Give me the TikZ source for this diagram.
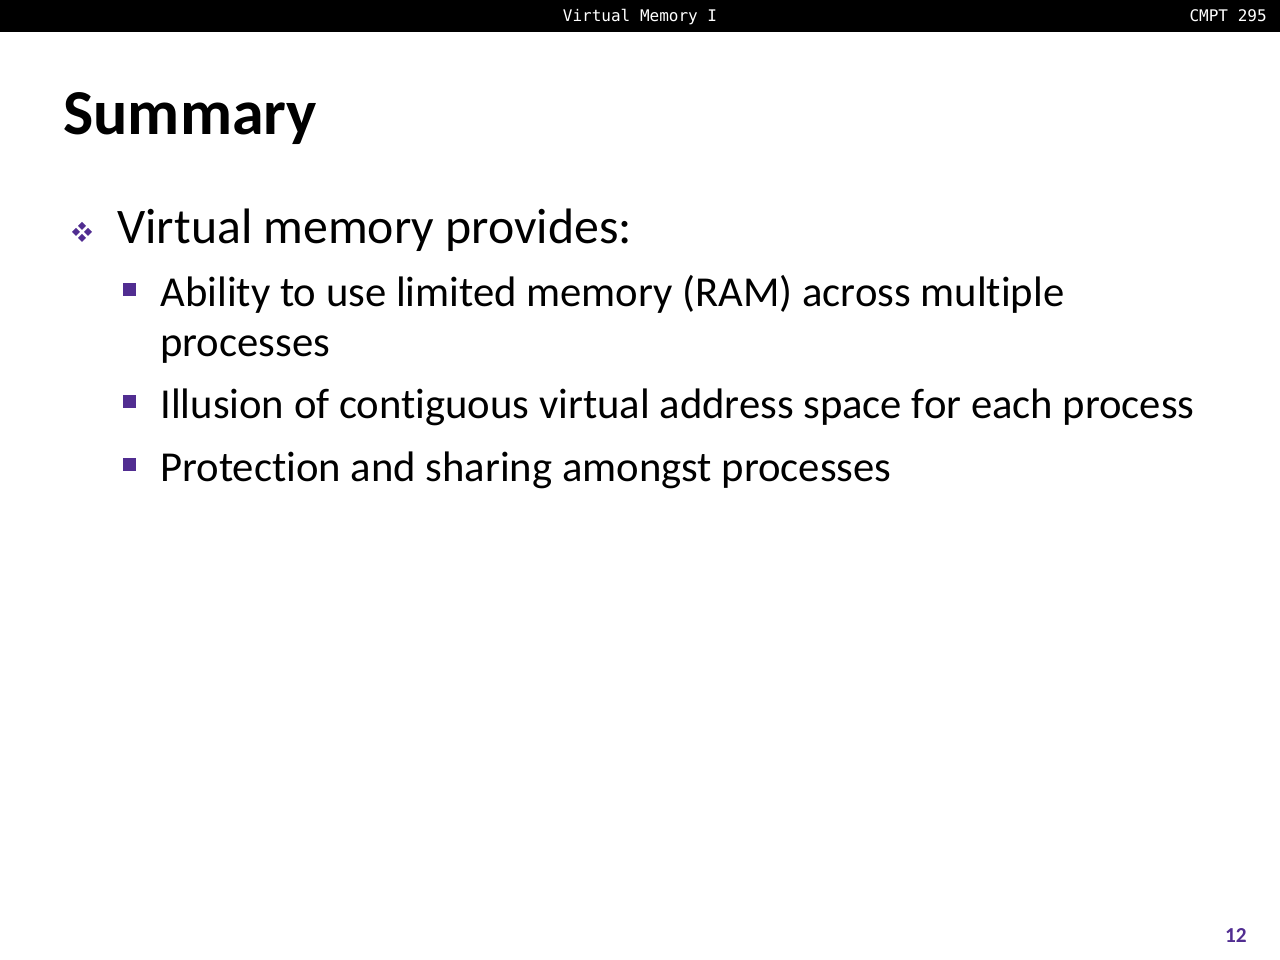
\documentclass[tikz,border=0pt]{standalone}
\usepackage{fontspec}
\setmainfont{Carlito}[Ligatures={NoCommon}]
\setmonofont{DejaVu Sans Mono}
\usepackage{xcolor}
\definecolor{slidepurple}{RGB}{81,45,145}
\tikzset{
  headtxt/.style={text=white, inner sep=0pt, font=\ttfamily\fontsize{9}{11}\selectfont},
  titletxt/.style={anchor=base west, inner sep=0pt, font=\bfseries\fontsize{36}{43}\selectfont},
  lvlone/.style={anchor=base west, inner sep=0pt, font=\fontsize{28}{34}\selectfont},
  lvltwo/.style={anchor=base west, inner sep=0pt, font=\fontsize{24}{29}\selectfont},
  sqbullet/.style={fill=slidepurple}
}

\begin{document}
\begin{tikzpicture}[x=0.5625pt,y=-0.5625pt]
\useasboundingbox (0,0) rectangle (1280,960);
%% header bar
\fill[black] (0,0) rectangle (1280,32);
\node[headtxt, anchor=base] (hdtitle) at (640,22) {Virtual Memory I};
\node[headtxt, anchor=base east] (hdcourse) at (1267,22) {CMPT 295};
%% title
\node[titletxt] (title) at (63,135) {Summary};
%% first level
\foreach \dx/\dy in {-6/0, 6/0, 0/-6, 0/6}
  \fill[slidepurple] (82+\dx-4,232+\dy) -- (82+\dx,232+\dy-4) -- (82+\dx+4,232+\dy) -- (82+\dx,232+\dy+4) -- cycle;
\node[lvlone] (vmem) at (117,244) {Virtual memory provides:};
%% second level
\foreach \y in {283,395,458}
  \fill[sqbullet] (123,\y) rectangle (136,\y+13);
\node[lvltwo] (ability) at (160,307) {Ability to use limited memory (RAM) across multiple};
\node[lvltwo] (abilitycont) at (160,357) {processes};
\node[lvltwo] (illusion) at (160,418) {Illusion of contiguous virtual address space for each process};
\node[lvltwo] (protect) at (160,481) {Protection and sharing amongst processes};
%% page number
\node[anchor=base east, inner sep=0pt, text=slidepurple, font=\bfseries\fontsize{12}{14}\selectfont] (pagenum) at (1247,942) {12};
\end{tikzpicture}
\end{document}
